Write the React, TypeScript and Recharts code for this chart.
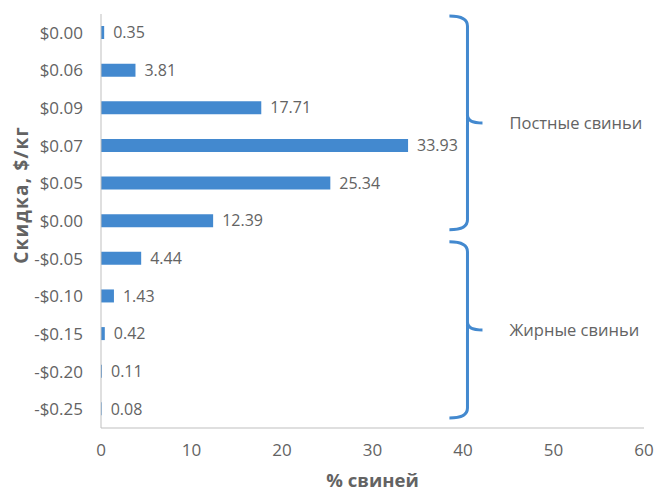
import { Bar, BarChart, LabelList, ReferenceArea, XAxis, YAxis } from "recharts"

const discounts = ['$0.00', '$0.06', '$0.09', '$0.07', '$0.05', '$0.00', '-$0.05', '-$0.10', '-$0.15', '-$0.20', '-$0.25']
const pigShare = [0.35, 3.81, 17.71, 33.93, 25.34, 12.39, 4.44, 1.43, 0.42, 0.11, 0.08]
const xTicks = [0, 10, 20, 30, 40, 50, 60]

const groups = [
  { name: 'Постные свиньи', from: 0, to: 5 },
  { name: 'Жирные свиньи', from: 6, to: 10 },
]

const data = discounts.map((d, i) => ({ idx: i, label: d, share: pigShare[i] }))

const BLUE = '#4389cf'
const GREY = '#636363'
const FONT = 'Open Sans'

// curly brace drawn inside the reference area box
function Brace(props: any) {
  const { x, y, width, height, name } = props
  const top = y + 2
  const bottom = y + height - 10
  const mid = (top + bottom) / 2
  const xl = x
  const xv = x + width * 0.5 + 9
  const xt = xv + 15
  const d = `M ${xl} ${top} Q ${xv} ${top} ${xv} ${top + 10} L ${xv} ${mid - 8} Q ${xv} ${mid} ${xt} ${mid}` +
    ` M ${xv} ${mid - 8} Q ${xv} ${mid} ${xv} ${mid + 8} L ${xv} ${bottom - 10} Q ${xv} ${bottom} ${xl} ${bottom}`
  return (
    <g>
      <path d={d} fill="none" stroke={BLUE} strokeWidth={3} />
      <text x={xt + 27} y={mid + 6} fill={GREY} fontSize={16.5} fontFamily={FONT}>{name}</text>
    </g>
  )
}

function YTitle(props: any) {
  const { viewBox } = props
  const cx = viewBox.x + 13
  const cy = 195
  return (
    <text
      x={cx}
      y={cy}
      transform={`rotate(-90 ${cx} ${cy})`}
      textAnchor="middle"
      dominantBaseline="central"
      fill={GREY}
      fontSize={19}
      fontWeight="bold"
      letterSpacing={1.2}
      fontFamily={FONT}
    >
      Скидка, $/кг
    </text>
  )
}

export default function App() {
  return (
    <div style={{ position: 'absolute', left: 0, top: 0, background: '#fff' }}>
      <BarChart
        width={657}
        height={494}
        data={data}
        layout="vertical"
        margin={{ top: 14, right: 13, left: 8, bottom: 0 }}
      >
        <XAxis
          type="number"
          domain={[0, 60]}
          ticks={xTicks}
          tickLine={false}
          axisLine={{ stroke: '#bfbfbf' }}
          tick={{ fill: GREY, fontSize: 17, fontFamily: FONT }}
          tickMargin={10}
          height={66}
          label={{ value: '% свиней', position: 'insideBottom', offset: 7, fill: GREY, fontSize: 18.5, fontWeight: 'bold', fontFamily: FONT }}
        />
        <YAxis
          type="category"
          dataKey="idx"
          width={93}
          tickLine={false}
          axisLine={{ stroke: '#bfbfbf' }}
          tickFormatter={(v: number) => discounts[v]}
          tick={{ fill: GREY, fontSize: 17, fontFamily: FONT }}
          tickMargin={12}
          label={<YTitle />}
        />
        {groups.map((g) => (
          <ReferenceArea
            key={g.name}
            y1={g.from}
            y2={g.to}
            x1={38.5}
            x2={40.5}
            ifOverflow="visible"
            shape={(p: any) => <Brace {...p} name={g.name} />}
          />
        ))}
        <Bar dataKey="share" fill={BLUE} barSize={13} isAnimationActive={false}>
          <LabelList dataKey="share" position="right" offset={9} fill={GREY} fontSize={16} fontFamily={FONT} formatter={(v: any) => Number(v).toFixed(2)} />
        </Bar>
      </BarChart>
    </div>
  )
}
